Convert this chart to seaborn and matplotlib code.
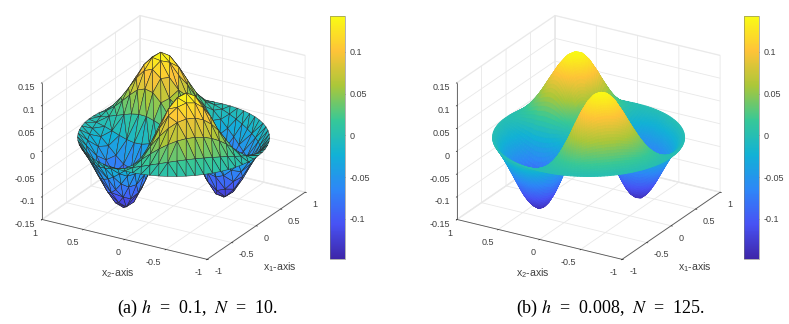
import numpy as np
import matplotlib
matplotlib.use('Agg')  # no display
import matplotlib.pyplot as plt
import matplotlib.tri as mtri
import seaborn as sns

# values
radius = [0.0, 0.05, 0.1, 0.15, 0.2, 0.25, 0.3, 0.35, 0.4, 0.45, 0.5,
          0.55, 0.6, 0.65, 0.7, 0.75, 0.8, 0.85, 0.9, 0.95, 1.0]
radial_height = [0.0, 0.0023, 0.009, 0.02, 0.036, 0.055, 0.078, 0.1, 0.119, 0.133, 0.141,
                 0.1425, 0.136, 0.125, 0.11, 0.091, 0.071, 0.051, 0.032, 0.015, 0.0]
angle_deg = [0, 7.5, 15, 22.5, 30, 37.5, 45, 52.5, 60, 67.5, 75, 82.5, 90,
             97.5, 105, 112.5, 120, 127.5, 135, 142.5, 150, 157.5, 165, 172.5, 180,
             187.5, 195, 202.5, 210, 217.5, 225, 232.5, 240, 247.5, 255, 262.5, 270,
             277.5, 285, 292.5, 300, 307.5, 315, 322.5, 330, 337.5, 345, 352.5, 360]
angle_factor = [0, 0.26, 0.5, 0.71, 0.87, 0.97, 1, 0.97, 0.87, 0.71, 0.5, 0.26, 0,
                -0.26, -0.5, -0.71, -0.87, -0.97, -1, -0.97, -0.87, -0.71, -0.5, -0.26, 0,
                0.26, 0.5, 0.71, 0.87, 0.97, 1, 0.97, 0.87, 0.71, 0.5, 0.26, 0,
                -0.26, -0.5, -0.71, -0.87, -0.97, -1, -0.97, -0.87, -0.71, -0.5, -0.26, 0]

# coarse mesh of panel (a): ring radii and nodes per ring
ring_radius = [0.09, 0.18, 0.27, 0.36, 0.45, 0.54, 0.63, 0.72, 0.81, 0.91, 1.0]
ring_nodes = [6, 12, 18, 24, 30, 36, 42, 48, 54, 60, 66]

xy_ticks = [-1, -0.5, 0, 0.5, 1]
xy_labels = ['-1', '-0.5', '0', '0.5', '1']
z_ticks = [-0.15, -0.1, -0.05, 0, 0.05, 0.1, 0.15]
z_labels = ['-0.15', '-0.1', '-0.05', '0', '0.05', '0.1', '0.15']
cbar_ticks = [-0.1, -0.05, 0, 0.05, 0.1]
cbar_labels = ['-0.1', '-0.05', '0', '0.05', '0.1']
z_min, z_max = -0.148, 0.143
captions = ['(a) $h$  =  0.1,  $N$  =  10.', '(b) $h$  =  0.008,  $N$  =  125.']

parula = [(0.2422, 0.1504, 0.6603), (0.2810, 0.3228, 0.9579), (0.1786, 0.5289, 0.9682),
          (0.0689, 0.6948, 0.8394), (0.2161, 0.7843, 0.5923), (0.6720, 0.7793, 0.2227),
          (0.9970, 0.7659, 0.2199), (0.9769, 0.9839, 0.0805)]

sns.set_theme(style='white')
plt.rcParams['font.family'] = ['Liberation Sans', 'DejaVu Sans']
plt.rcParams['mathtext.fontset'] = 'custom'
plt.rcParams['mathtext.rm'] = 'Liberation Sans'
cmap = sns.blend_palette(parula, n_colors=256, as_cmap=True)

W, H = 789, 324


def height(r, theta):
    deg = np.degrees(theta) % 360
    return np.interp(r, radius, radial_height) * np.interp(deg, angle_deg, angle_factor)


def setup_axes(ax):
    ax.set_proj_type('ortho')
    ax.view_init(elev=24, azim=-149.3)
    ax.set_box_aspect((1, 1, 0.78))
    ax.set_xlim(-1, 1, view_margin=0)
    ax.set_ylim(-1, 1, view_margin=0)
    ax.set_zlim(-0.15, 0.15, view_margin=0)
    ax.patch.set_alpha(0)
    # trailing newline lifts the x1 and z labels a few pixels, 3d ticks ignore offsets
    ax.set_xticks(xy_ticks, [s + '\n' for s in xy_labels])
    ax.set_yticks(xy_ticks, xy_labels)
    ax.set_zticks(z_ticks, [s + '\n' for s in z_labels])
    for axis in [ax.xaxis, ax.yaxis, ax.zaxis]:
        axis.pane.set_facecolor('white')
        axis.pane.set_edgecolor('#e6e6e6')
        axis.line.set_color('#555555')
        axis.line.set_linewidth(0.6)
        axis._axinfo['grid'].update(color='#e8e8e8', linewidth=0.6)
        axis._axinfo['tick'].update(inward_factor=0.1, outward_factor=0.0, linewidth={True: 0.5, False: 0.5})
        axis._axinfo['tick']['color'] = '#555555'
    ax.tick_params(axis='both', labelsize=6.5, labelcolor='#404040', pad=-3)
    ax.tick_params(axis='z', labelsize=6.5, labelcolor='#404040', pad=-5)
    for lab in ax.get_zticklabels():
        lab.set_ha('right')
        lab.set_linespacing(0.9)
    for lab in ax.get_yticklabels():
        lab.set_ha('right')
    for lab in ax.get_xticklabels():
        lab.set_ha('left')
        lab.set_linespacing(0.9)


def add_colorbar(fig, left):
    cax = fig.add_axes([left / W, 1 - 259 / H, 15 / W, 243 / H])
    sm = plt.cm.ScalarMappable(norm=plt.Normalize(z_min, z_max), cmap=cmap)
    cb = fig.colorbar(sm, cax=cax)
    cb.set_ticks(cbar_ticks, labels=cbar_labels)
    cb.ax.tick_params(direction='in', length=2, width=0.4, labelsize=6.5, labelcolor='#404040', pad=3, color='#555555')
    cb.outline.set_edgecolor('#777777')
    cb.outline.set_linewidth(0.4)


fig = plt.figure(figsize=(W / 100, H / 100), dpi=100)

# panel (a): coarse triangulated surface with visible edges
ax_a = fig.add_axes([19 / W, 32 / H, 301 / W, 301 / H], projection='3d')
setup_axes(ax_a)
node_r = [0.0]
node_t = [0.0]
for i, (rr, nn) in enumerate(zip(ring_radius, ring_nodes)):
    for k in range(nn):
        node_r.append(rr)
        node_t.append(2 * np.pi * (k + 0.5 * (i % 2)) / nn)
node_r = np.array(node_r)
node_t = np.array(node_t)
tri = mtri.Triangulation(node_r * np.cos(node_t), node_r * np.sin(node_t))
ax_a.plot_trisurf(tri, height(node_r, node_t), cmap=cmap, vmin=z_min, vmax=z_max,
                  edgecolor='#2a2a2a', linewidth=0.35, antialiased=True)

# panel (b): fine surface, no edges
ax_b = fig.add_axes([434 / W, 32 / H, 301 / W, 301 / H], projection='3d')
setup_axes(ax_b)
rr, tt = np.meshgrid(np.linspace(0, 1, 70), np.radians(np.linspace(0, 360, 181)))
surf = ax_b.plot_surface(rr * np.cos(tt), rr * np.sin(tt), height(rr, tt), cmap=cmap, vmin=z_min, vmax=z_max,
                         rstride=1, cstride=1, linewidth=0.7, antialiased=True)
surf.set_edgecolor('face')

for dx, caption, cx, cb_left in zip([0, 415], captions, [197.5, 611], [330, 744]):
    add_colorbar(fig, cb_left)
    fig.text((118 + dx) / W, 1 - 273 / H, 'x$_2$-axis', fontsize=7.6, color='#404040', ha='center', va='center')
    fig.text((280 + dx) / W, 1 - 267 / H, 'x$_1$-axis', fontsize=7.6, color='#404040', ha='center', va='center')
    fig.text(cx / W, 1 - 308 / H, caption, fontsize=13, color='black', ha='center', va='center',
             family='Liberation Serif', math_fontfamily='stix')

fig.savefig('out.png', dpi=100)
